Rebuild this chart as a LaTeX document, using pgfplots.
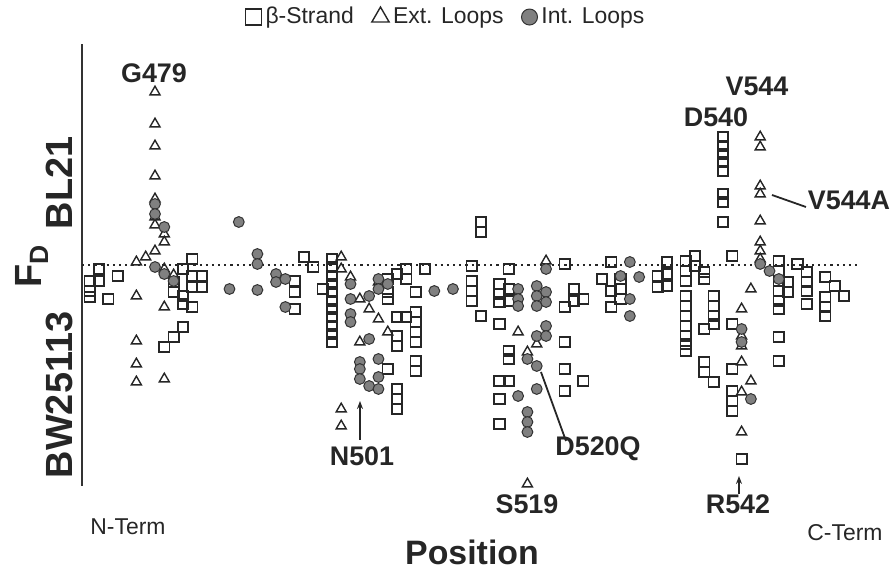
\documentclass[border=0pt]{standalone}
\usepackage{fontspec}
\setmainfont{Liberation Sans}
\usepackage{pgfplots}
\pgfplotsset{compat=1.18}
\usepackage{pgfplotstable}
\usetikzlibrary{arrows.meta}

% beta-strand positions (residue, F_D)
\pgfplotstableread{
r y
473 -0.04
472 -0.16
473 -0.16
472 -0.26
472 -0.32
475 -0.11
474 -0.34
483 0.06
482 -0.04
481 -0.17
481 -0.27
483 -0.11
483 -0.22
484 -0.11
484 -0.22
482 -0.31
482 -0.39
483 -0.42
482 -0.62
481 -0.72
480 -0.82
495 0.08
496 -0.02
494 -0.16
494 -0.27
494 -0.44
497 -0.24
498 0.06
498 -0.02
498 -0.11
498 -0.19
498 -0.27
498 -0.36
498 -0.44
498 -0.52
498 -0.61
498 -0.69
498 -0.77
504 -0.14
504 -0.27
504 -0.34
504 -1.04
505 -0.09
505 -0.52
505 -0.71
505 -0.81
505 -1.24
505 -1.34
505 -1.44
506 -0.04
506 -0.14
506 -0.52
507 -0.27
507 -0.47
507 -0.57
507 -0.67
507 -0.77
507 -0.96
507 -1.06
508 -0.04
513 -0.01
513 -0.16
513 -0.26
513 -0.36
514 0.43
514 0.33
514 -0.51
516 -0.19
516 -0.29
516 -0.37
516 -0.59
516 -1.16
516 -1.34
516 -1.59
517 -0.04
517 -0.24
517 -0.36
517 -0.86
517 -0.94
517 -1.16
523 0.01
523 -0.42
523 -0.77
523 -1.04
523 -1.26
524 -0.24
524 -0.36
525 -0.34
525 -1.16
527 -0.14
528 0.03
528 -0.26
528 -0.42
529 -0.14
529 -0.24
529 -0.34
533 -0.11
533 -0.22
534 0.03
534 -0.09
534 -0.21
536 0.04
536 -0.06
536 -0.16
536 -0.31
536 -0.41
536 -0.51
536 -0.61
536 -0.71
536 -0.79
536 -0.86
537 0.09
537 -0.01
538 -0.07
538 -0.14
538 -0.64
538 -0.97
538 -1.07
539 -0.31
539 -0.41
539 -0.51
539 -0.59
539 -1.17
540 1.28
540 1.19
540 1.11
540 1.03
540 0.94
540 0.71
540 0.63
540 0.43
541 0.09
541 -0.59
541 -1.04
541 -1.26
541 -1.36
541 -1.46
542 -1.94
546 0.04
546 -0.06
546 -0.16
546 -0.26
546 -0.36
546 -0.44
546 -0.72
546 -0.96
547 -0.17
547 -0.27
548 0.01
549 -0.07
549 -0.17
549 -0.26
549 -0.39
551 -0.12
551 -0.32
551 -0.42
551 -0.51
552 -0.21
553 -0.31
}\strand

% external loops
\pgfplotstableread{
r y
479 1.73
479 1.41
479 1.19
479 0.89
479 0.66
479 0.48
479 0.40
480 0.31
480 0.23
479 0.14
478 0.08
477 0.03
480 -0.04
481 -0.10
477 -0.31
477 -0.76
477 -0.99
477 -1.17
480 -0.42
480 -1.14
499 0.08
499 -0.04
500 -0.12
501 -0.34
502 -0.44
503 -0.17
503 -0.54
504 -0.67
499 -1.44
499 -1.61
501 -0.77
518 -0.67
519 -0.87
521 0.04
520 -0.79
519 -2.19
542 -0.44
542 -0.71
542 -0.81
542 -0.97
542 -1.27
542 -1.67
543 -0.24
543 -1.16
544 1.28
544 1.18
544 0.79
544 0.71
544 0.44
544 0.23
544 0.14
544 0.06
}\extl

% internal loops
\pgfplotstableread{
r y
479 0.61
479 0.51
480 0.38
479 -0.02
480 -0.09
481 -0.16
487 -0.24
488 0.43
490 0.11
490 0.01
490 -0.25
492 -0.09
492 -0.17
493 -0.14
493 -0.42
500 -0.19
500 -0.34
500 -0.49
500 -0.57
501 -0.97
501 -1.04
501 -1.14
502 -1.21
502 -0.31
502 -0.74
503 -0.14
503 -0.24
503 -0.94
503 -1.12
503 -1.24
504 -0.19
509 -0.26
511 -0.24
518 -0.24
518 -0.34
518 -0.41
518 -1.31
519 -0.94
519 -1.47
519 -1.57
519 -1.67
520 -0.21
520 -0.31
520 -0.41
520 -0.71
520 -1.01
520 -1.24
521 -0.27
521 -0.37
521 -0.61
521 -0.71
521 -0.04
530 0.03
530 -0.34
530 -0.51
529 -0.11
531 -0.12
544 0.01
545 -0.06
546 -0.14
542 -0.64
542 -0.77
543 -1.34
}\intl

\begin{document}
\begin{tikzpicture}
\path[use as bounding box] (0,0) rectangle (446bp,286.5bp);
\begin{axis}[
  at={(41bp,43.5bp)}, anchor=south west,
  scale only axis, width=389bp, height=221bp,
  xmin=471.16, xmax=554.72, ymin=-2.21, ymax=2.21,
  axis x line=none, axis y line*=left,
  y axis line style={black!80, line width=1bp},
  xtick=\empty, ytick=\empty,
  clip=false,
  legend columns=3,
  legend cell align=left,
  legend style={at={(axis description cs:0.469,1.061)}, anchor=center,
    draw=none, fill=none, font=\fontsize{11.5}{13}\selectfont, text=black!85,
    /tikz/every even column/.append style={column sep=7bp},
    inner sep=0pt},
]
\draw[black!85, dotted, line width=1.1bp] (axis cs:471.16,0) -- (axis cs:554.72,0);
\addplot[only marks, mark=square, mark size=2.6bp,
  mark options={draw=black!85, line width=0.85bp},
  legend image post style={mark size=4bp}] table {\strand};
\addlegendentry{β-Strand}
\addplot[only marks, mark=triangle, mark size=2.9bp,
  mark options={draw=black!85, line width=0.7bp},
  legend image post style={mark size=5bp}] table {\extl};
\addlegendentry{Ext. Loops}
\addplot[only marks, mark=*, mark size=2.7bp,
  mark options={draw=black!80, fill=black!50, line width=0.5bp},
  legend image post style={mark size=4bp}] table {\intl};
\addlegendentry{Int. Loops}
\end{axis}

\begin{scope}[shift={(0bp,286.5bp)}, x=0.5bp, y=-0.5bp,
  lab/.style={font=\bfseries\fontsize{13.5}{15}\selectfont, text=black!85, inner sep=0pt}]
\node[lab] at (154,73) {G479};
\node[lab] at (757,86) {V544};
\node[lab] at (716,117) {D540};
\node[lab] at (849,200) {V544A};
\node[lab] at (362,456) {N501};
\node[lab] at (598,449) {D520Q};
\node[lab] at (527,504) {S519};
\node[lab] at (738,504) {R542};
\node[font=\fontsize{11.5}{13}\selectfont, text=black!85, inner sep=0pt] at (128,527) {N-Term};
\node[font=\fontsize{11.5}{13}\selectfont, text=black!85, inner sep=0pt] at (845,533) {C-Term};
\node[font=\bfseries\fontsize{17}{19}\selectfont, text=black!85, inner sep=0pt] at (472,552) {Position};
\node[font=\bfseries\fontsize{19}{21}\selectfont, text=black!85, rotate=90, inner sep=0pt] at (59,183) {BL21};
\node[font=\bfseries\fontsize{19}{21}\selectfont, text=black!85, rotate=90, inner sep=0pt] at (59,395) {BW25113};
\node[font=\bfseries\fontsize{19}{21}\selectfont, text=black!85, rotate=90, inner sep=0pt] at (32,266) {F\textsubscript{D}};
\draw[black!85, line width=0.9bp, -{Stealth[length=4bp,width=3bp]}] (360,440) -- (360,401);
\draw[black!85, line width=0.9bp, -{Stealth[length=4bp,width=3bp]}] (739,494) -- (739,476);
\draw[black!85, line width=0.9bp] (541,372) -- (566,441);
\draw[black!85, line width=0.9bp] (772,195) -- (806,207);
\end{scope}
\end{tikzpicture}
\end{document}
